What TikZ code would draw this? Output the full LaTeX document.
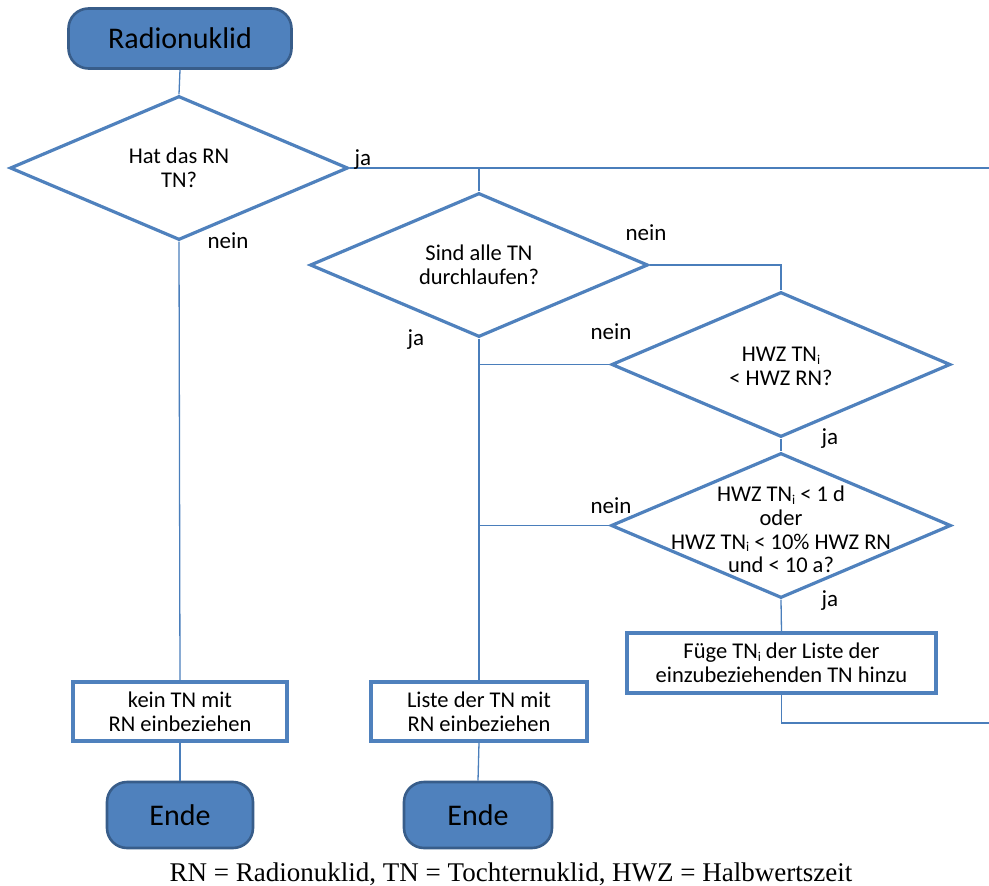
\documentclass[tikz,border=0pt]{standalone}
\usepackage{fontspec}
\setmainfont{Carlito}
\newfontfamily\captionfont{Liberation Serif}
\usetikzlibrary{shapes.geometric}
\definecolor{shapeblue}{HTML}{4F81BD}
\definecolor{lineblue}{HTML}{4A7EBB}
\definecolor{termedge}{HTML}{385D8A}
% lowered index letter
\newcommand\idx[1]{\raisebox{-0.22ex}{\fontsize{13.5}{13.5}\selectfont #1}}
\begin{document}
\begin{tikzpicture}[x=1pt,y=-1pt,
  txt/.style={font=\fontsize{22.5}{23.6}\selectfont, align=center, text=black},
  terminal/.style={rectangle, rounded corners=20pt, draw=termedge, line width=2.6pt,
    fill=shapeblue, inner sep=0pt, font=\fontsize{30}{32}\selectfont, text=black},
  decision/.style={diamond, draw=shapeblue, line width=3.2pt, inner sep=0pt,
    minimum width=338pt, minimum height=144pt},
  stepbox/.style={rectangle, draw=shapeblue, line width=3.2pt, inner sep=0pt,
    txt},
  flow/.style={draw=lineblue, line width=1.3pt},
  branch/.style={font=\fontsize{23}{24}\selectfont, anchor=base, inner sep=0pt}]
\useasboundingbox (0,0) rectangle (989,886);

% terminals
\node[terminal, minimum width=223pt, minimum height=60pt] (start) at (180,38.5) {Radionuklid};
\node[terminal, minimum width=146pt, minimum height=66pt] (end1) at (180,815) {Ende};
\node[terminal, minimum width=148pt, minimum height=66pt] (end2) at (478,815) {Ende};

% decisions
\node[decision, label={[txt]center:Hat das RN\\TN?}] (d1) at (179,168) {};
\node[decision, label={[txt]center:Sind alle TN\\durchlaufen?}] (d2) at (479,265) {};
\node[decision, minimum width=339pt, minimum height=145pt,
  label={[txt, yshift=-2pt]center:HWZ TN\idx{i}\\< HWZ RN?}] (d3) at (781,364.5) {};
\node[decision, minimum width=340pt, minimum height=145pt,
  label={[txt, yshift=-4pt]center:HWZ TN\idx{i} < 1 d\\oder\\HWZ TN\idx{i} < 10\% HWZ RN\\und < 10 a?}] (d4) at (781,525.5) {};

% process boxes
\node[stepbox, minimum width=214pt, minimum height=59pt] (b1) at (180,711.5) {kein TN mit\\RN einbeziehen};
\node[stepbox, minimum width=216pt, minimum height=59pt] (b2) at (479,711.5) {Liste der TN mit\\RN einbeziehen};
\node[stepbox, minimum width=309pt, minimum height=60pt] (b3) at (781.5,663) {Füge TN\idx{i} der Liste der\\einzubeziehenden TN hinzu};

% loose ends at the right margin
\coordinate (out1) at (989,168);
\coordinate (out2) at (989,723);

% connectors
\path[flow] (start.south) -- (d1.north);
\path[flow] (d1.east) -- (out1);
\path[flow] (d2.north) -- (d2.north |- d1.east);
\path[flow] (d1.south) -- (b1.north);
\path[flow] (b1.south) -- (end1.north);
\path[flow] (d2.east) -| (d3.north);
\path[flow] (d2.south) -- (b2.north);
\path[flow] (b2.south) -- (end2.north);
\path[flow] (d3.west) -- (d3.west -| d2.south);
\path[flow] (d3.south) -- (d4.north);
\path[flow] (d4.west) -- (d4.west -| d2.south);
\path[flow] (d4.south) -- (b3.north);
\path[flow] (b3.south) |- (out2);

% branch labels
\node[branch] (l1) at (363,165) {ja};
\node[branch] (l2) at (228,248) {nein};
\node[branch] (l3) at (646,240) {nein};
\node[branch] (l4) at (416,345) {ja};
\node[branch] (l5) at (611,339) {nein};
\node[branch] (l6) at (830,444) {ja};
\node[branch] (l7) at (611,513) {nein};
\node[branch] (l8) at (830,606) {ja};

% legend
\node[anchor=base, inner sep=0pt, font=\captionfont\fontsize{27}{30}\selectfont] (legend) at (511,881)
  {RN = Radionuklid, TN = Tochternuklid, HWZ = Halbwertszeit};
\end{tikzpicture}
\end{document}
